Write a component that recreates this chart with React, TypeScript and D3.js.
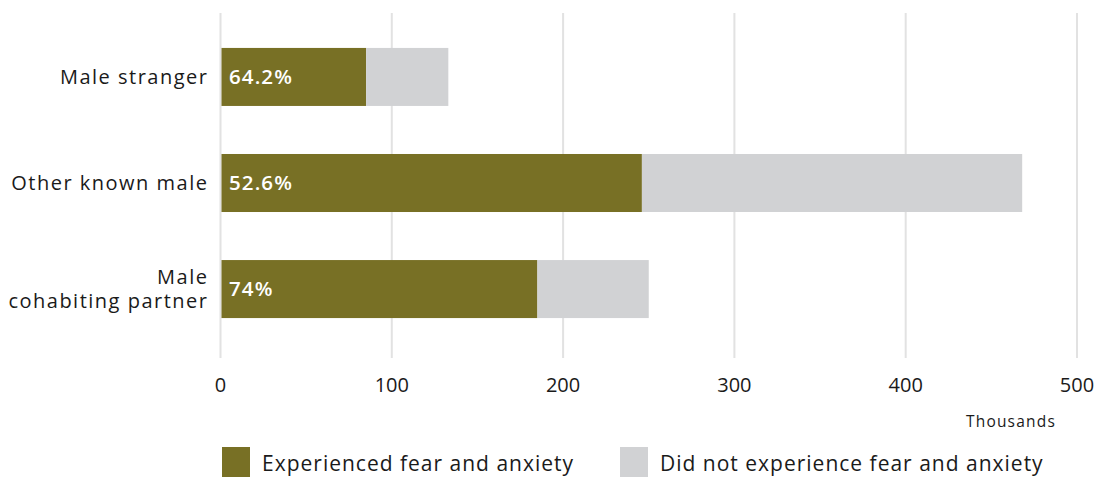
import React from "react";
import * as d3 from "d3";

const categories = ["Male stranger", "Other known male", "Male cohabiting partner"];
const fearValues = [85, 246, 185];
const noFearValues = [48, 222, 65];
const pctLabels = ["64.2%", "52.6%", "74%"];
const xTicks = [0, 100, 200, 300, 400, 500];
const seriesNames = ["Experienced fear and anxiety", "Did not experience fear and anxiety"];
const colors = ["#787025", "#D1D2D4"];

const W = 1098;
const H = 477;
const FONT = "'Open Sans', Lato, sans-serif";

export default function App() {
  const x = d3.scaleLinear().domain([0, 500]).range([220.5, 1077]);
  const y = d3
    .scaleBand<string>()
    .domain(categories)
    .range([14, 352])
    .paddingInner(0.453)
    .paddingOuter(0.32);

  const rows = categories.map((c, i) => ({ c, f: fearValues[i], n: noFearValues[i], p: pctLabels[i] }));
  const stack = d3.stack<any>().keys(["f", "n"])(rows);

  const catLines: Record<string, string[]> = {
    "Male cohabiting partner": ["Male", "cohabiting partner"],
  };

  return (
    <svg width={W} height={H} style={{ position: "absolute", left: 0, top: 0 }} fontFamily={FONT}>
      {xTicks.map((t) => (
        <line key={t} x1={x(t)} x2={x(t)} y1={13} y2={358} stroke="#E2E2E2" strokeWidth={2} />
      ))}
      {stack.map((s, si) =>
        s.map((d, i) => (
          <rect
            key={si + "-" + i}
            x={x(d[0]) + (si === 0 ? 1 : 0)}
            y={y(categories[i])}
            width={x(d[1]) - x(d[0]) - (si === 0 ? 1 : 0)}
            height={y.bandwidth()}
            fill={colors[si]}
          />
        ))
      )}
      {rows.map((r) => (
        <text
          key={r.c + "p"}
          x={229}
          y={(y(r.c) as number) + y.bandwidth() / 2}
          dy="0.36em"
          fill="#fff"
          fontSize={20.5}
          fontWeight={600}
          letterSpacing={1.1}
        >
          {r.p}
        </text>
      ))}
      {categories.map((c) => {
        const lines = catLines[c] || [c];
        const cy = (y(c) as number) + y.bandwidth() / 2;
        return (
          <g key={c}>
            {lines.map((l, li) => (
              <text
                key={li}
                x={208.5}
                y={cy + (li - (lines.length - 1) / 2) * 24}
                dy="0.36em"
                textAnchor="end"
                fill="#1a1a1a"
                fontSize={20}
                letterSpacing={1.5}
              >
                {l}
              </text>
            ))}
          </g>
        );
      })}
      {xTicks.map((t) => (
        <text key={"t" + t} x={x(t)} y={385} dy="0.36em" textAnchor="middle" fill="#1a1a1a" fontSize={20}>
          {t}
        </text>
      ))}
      <text x={1056} y={421} dy="0.36em" textAnchor="end" fill="#1a1a1a" fontSize={15.5} letterSpacing={1.2}>
        Thousands
      </text>
      {seriesNames.map((n, i) => {
        const lx = i === 0 ? 222 : 620;
        return (
          <g key={n}>
            <rect x={lx} y={447} width={28} height={30} fill={colors[i]} />
            <text x={lx + 40} y={463} dy="0.36em" fill="#1a1a1a" fontSize={21} letterSpacing={1}>
              {n}
            </text>
          </g>
        );
      })}
    </svg>
  );
}
